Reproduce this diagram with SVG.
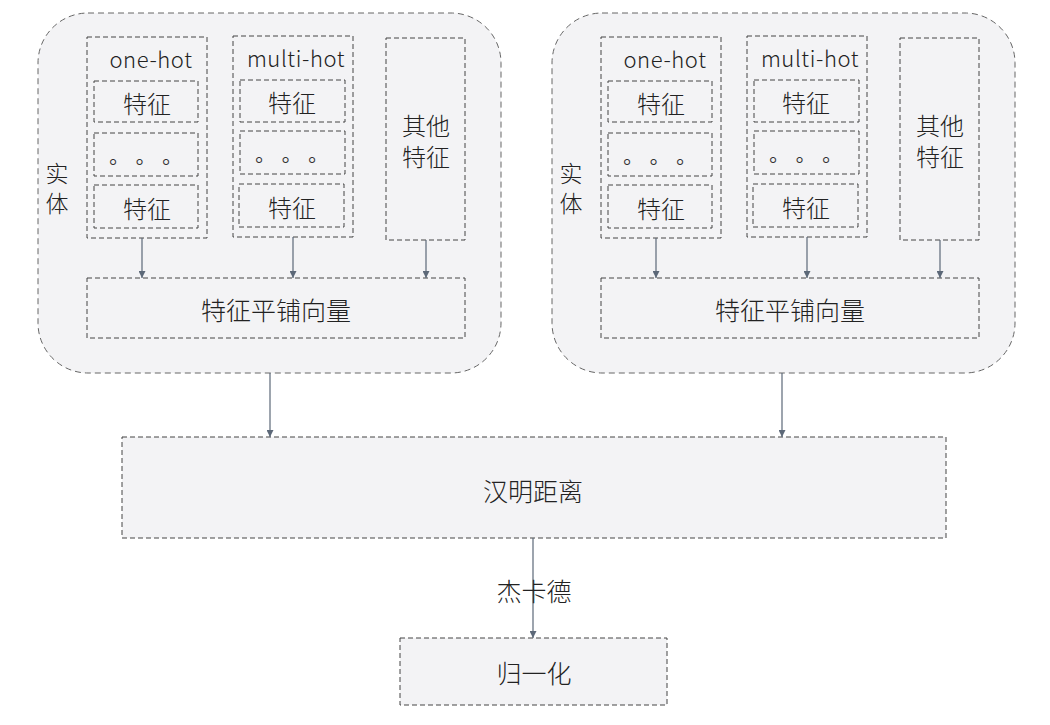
<svg xmlns="http://www.w3.org/2000/svg" width="1050" height="725" viewBox="0 0 1050 725">
<defs>
<style>
.outer{fill:#f3f3f5;stroke:#666;stroke-width:1;stroke-dasharray:6,4}
.box{fill:#f3f3f5;stroke:#444;stroke-width:1;stroke-dasharray:5,3}
.t{font-family:"Noto Sans CJK SC","Noto Sans",sans-serif;font-weight:300;fill:#222;text-anchor:middle;dominant-baseline:central}
.s{font-family:"Liberation Sans","Noto Sans CJK SC",sans-serif}
.l{font-size:22px;letter-spacing:0.6px}
.d{font-family:"Noto Sans CJK TC",sans-serif;font-size:20px;letter-spacing:6.5px;fill:#333;dominant-baseline:central}
.c{stroke:#5c6878;stroke-width:1.2;fill:none;marker-end:url(#ah)}
</style>
<marker id="ah" viewBox="0 0 10 10" refX="10" refY="5" markerWidth="7" markerHeight="7" markerUnits="userSpaceOnUse" orient="auto">
<path d="M0,0 L10,5 L0,10 z" fill="#5c6878"/>
</marker>
</defs>
<rect width="1050" height="725" fill="#ffffff"/>

<g id="entity-left">
<rect class="outer" x="38" y="13" width="463" height="360" rx="50"/>
<text class="t s" font-size="23"><tspan x="57" y="174">实</tspan><tspan x="57" y="204">体</tspan></text>
<g id="onehot-left">
<rect class="box" x="87" y="37" width="120" height="201"/>
<text class="t l" x="151" y="58">one-hot</text>
<rect class="box" x="94" y="81" width="104" height="41"/>
<text class="t" x="147" y="102" font-size="24">特征</text>
<rect class="box" x="94" y="133" width="104" height="43"/>
<text class="d" x="103" y="161">。。。</text>
<rect class="box" x="94" y="185" width="104" height="43"/>
<text class="t" x="147" y="207" font-size="24">特征</text>
</g>
<g id="multihot-left">
<rect class="box" x="233" y="36" width="120" height="201"/>
<text class="t l" x="296" y="57">multi-hot</text>
<rect class="box" x="240" y="80" width="105" height="42"/>
<text class="t" x="292" y="101" font-size="24">特征</text>
<rect class="box" x="240" y="131" width="105" height="43"/>
<text class="d" x="249" y="159">。。。</text>
<rect class="box" x="239" y="184" width="105" height="43"/>
<text class="t" x="292" y="206" font-size="24">特征</text>
</g>
<g id="other-left">
<rect class="box" x="386" y="38" width="79" height="202"/>
<text class="t s" font-size="24"><tspan x="426" y="126">其他</tspan><tspan x="426" y="157">特征</tspan></text>
</g>
<g id="flat-left">
<rect class="box" x="87" y="278" width="378" height="60"/>
<text class="t" x="276" y="309" font-size="25">特征平铺向量</text>
</g>
</g>

<g id="entity-right">
<rect class="outer" x="552" y="13" width="463" height="360" rx="50"/>
<text class="t s" font-size="23"><tspan x="571" y="174">实</tspan><tspan x="571" y="204">体</tspan></text>
<g id="onehot-right">
<rect class="box" x="601" y="37" width="120" height="201"/>
<text class="t l" x="665" y="58">one-hot</text>
<rect class="box" x="608" y="81" width="104" height="41"/>
<text class="t" x="661" y="102" font-size="24">特征</text>
<rect class="box" x="608" y="133" width="104" height="43"/>
<text class="d" x="617" y="161">。。。</text>
<rect class="box" x="608" y="185" width="104" height="43"/>
<text class="t" x="661" y="207" font-size="24">特征</text>
</g>
<g id="multihot-right">
<rect class="box" x="747" y="36" width="120" height="201"/>
<text class="t l" x="810" y="57">multi-hot</text>
<rect class="box" x="754" y="80" width="105" height="42"/>
<text class="t" x="806" y="101" font-size="24">特征</text>
<rect class="box" x="754" y="131" width="105" height="43"/>
<text class="d" x="763" y="159">。。。</text>
<rect class="box" x="753" y="184" width="105" height="43"/>
<text class="t" x="806" y="206" font-size="24">特征</text>
</g>
<g id="other-right">
<rect class="box" x="900" y="38" width="79" height="202"/>
<text class="t s" font-size="24"><tspan x="940" y="126">其他</tspan><tspan x="940" y="157">特征</tspan></text>
</g>
<g id="flat-right">
<rect class="box" x="601" y="278" width="378" height="60"/>
<text class="t" x="790" y="309" font-size="25">特征平铺向量</text>
</g>
</g>

<g id="hamming">
<rect class="box" x="122" y="437" width="824" height="101"/>
<text class="t" x="533" y="490" font-size="25">汉明距离</text>
</g>

<g id="normalize">
<rect class="box" x="400" y="638" width="267" height="67"/>
<text class="t" x="534" y="672" font-size="25">归一化</text>
</g>

<g id="connectors">
<line class="c" x1="142" y1="238" x2="142" y2="278"/>
<line class="c" x1="293" y1="237" x2="293" y2="278"/>
<line class="c" x1="426" y1="240" x2="426" y2="278"/>
<line class="c" x1="656" y1="238" x2="656" y2="278"/>
<line class="c" x1="807" y1="237" x2="807" y2="278"/>
<line class="c" x1="940" y1="240" x2="940" y2="278"/>
<line class="c" x1="270" y1="373" x2="270" y2="437"/>
<line class="c" x1="782" y1="373" x2="782" y2="437"/>
<line class="c" x1="533" y1="538" x2="533" y2="638"/>
<text class="t" x="534" y="590" font-size="25">杰卡德</text>
</g>
</svg>
